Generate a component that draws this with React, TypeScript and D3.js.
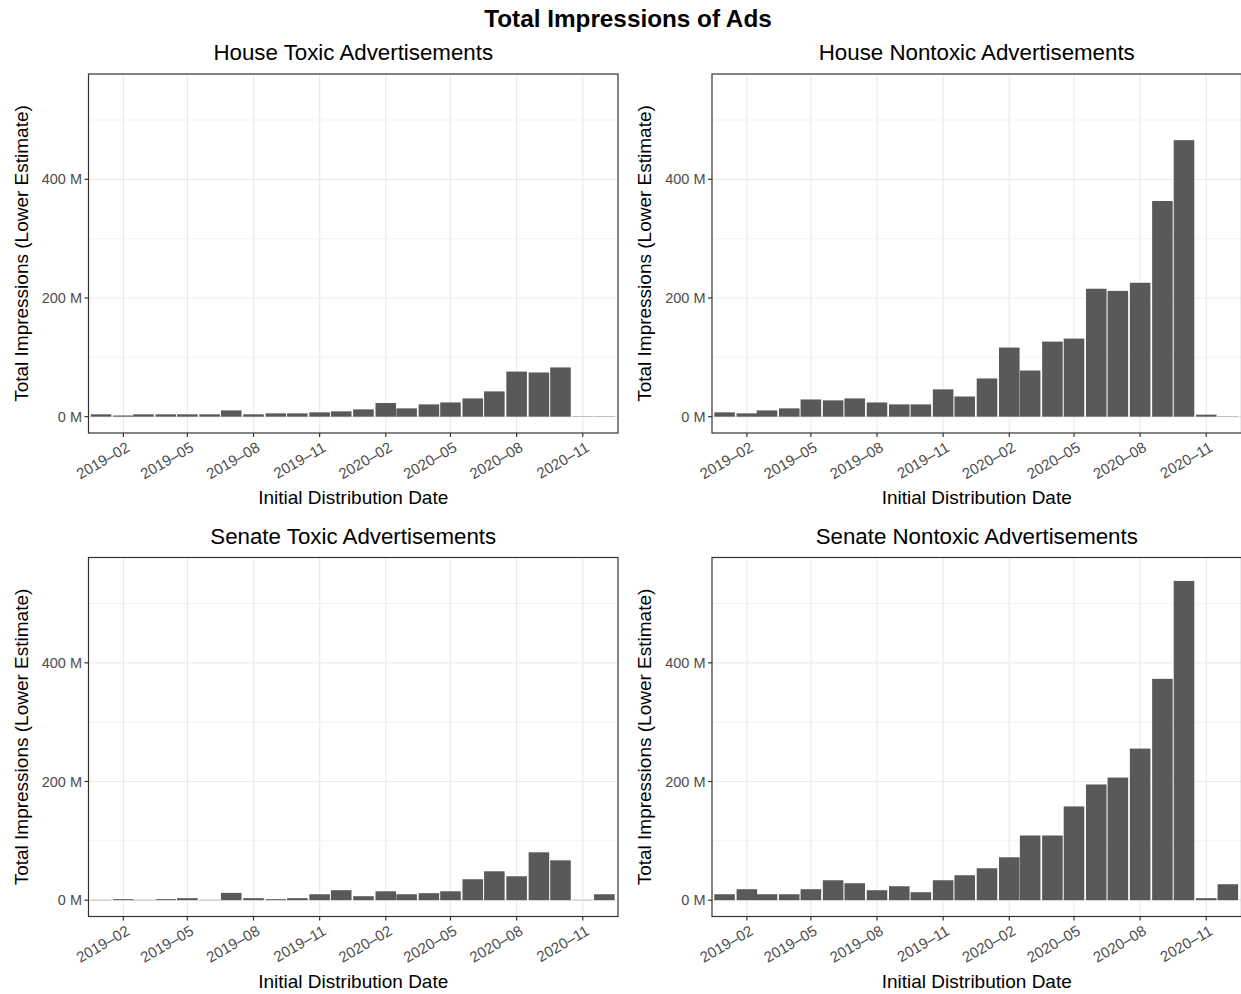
import React from 'react';
import * as d3 from 'd3';

const months = [
  '2019-01', '2019-02', '2019-03', '2019-04', '2019-05', '2019-06',
  '2019-07', '2019-08', '2019-09', '2019-10', '2019-11', '2019-12',
  '2020-01', '2020-02', '2020-03', '2020-04', '2020-05', '2020-06',
  '2020-07', '2020-08', '2020-09', '2020-10', '2020-11', '2020-12',
];

// Total impressions (millions)
const houseToxic = [4, 2, 4, 4, 4, 4, 10.6, 4, 5.6, 5.6, 7.3, 9, 12.3, 23, 14, 20.7, 24, 30.8, 42.6, 76, 74.5, 83, 0.5, 0.5];
const houseNontoxic = [7.3, 5.6, 10.6, 14, 29, 27.5, 30.8, 24, 20.7, 20.7, 46, 34, 64.4, 116.5, 77.8, 126.5, 131.6, 215.6, 212, 225.7, 363.5, 466, 3.4, 0.5];
const senateToxic = [0.5, 1.7, 0.5, 1.7, 3.4, 0.5, 12.3, 3.4, 1.7, 3.4, 10, 16.8, 6.7, 15, 10, 11.8, 15, 35.3, 48.7, 40.3, 80.7, 67.2, 0.5, 10];
const senateNontoxic = [10, 18.5, 10, 10, 18.5, 33.6, 28.6, 16.8, 23.5, 13.4, 33.6, 42, 53.8, 72.3, 109, 109, 158, 195, 206.7, 255.5, 373, 538, 3.4, 26.9];

const xTickMonths = ['2019-02', '2019-05', '2019-08', '2019-11', '2020-02', '2020-05', '2020-08', '2020-11'];
const xTickLabels = ['2019\u201302', '2019\u201305', '2019\u201308', '2019\u201311', '2020\u201302', '2020\u201305', '2020\u201308', '2020\u201311'];
const yMajorTicks = [0, 200, 400];
const yMinorTicks = [100, 300, 500];
const yTickLabels = ['0 M', '200 M', '400 M'];

const mainTitle = 'Total Impressions of Ads';
const panelTitles = ['House Toxic Advertisements', 'House Nontoxic Advertisements', 'Senate Toxic Advertisements', 'Senate Nontoxic Advertisements'];
const xAxisTitle = 'Initial Distribution Date';
const yAxisTitle = 'Total Impressions (Lower Estimate)';

const W = 1241;
const H = 994;
const FONT = '"Liberation Sans", Arial, Helvetica, sans-serif';
const PW = 529.5;
const PH = 359;
const panelPos = [
  { x: 88.5, y: 74 },
  { x: 712, y: 74 },
  { x: 88.5, y: 557.5 },
  { x: 712, y: 557.5 },
];
const seriesList = [houseToxic, houseNontoxic, senateToxic, senateNontoxic];

const parseMonth = d3.utcParse('%Y-%m');
const DAY = 86400000;

function Panel({ px, py, title, values }: { px: number; py: number; title: string; values: number[] }) {
  const x = d3.scaleUtc()
    .domain([new Date(Date.UTC(2018, 11, 14, 12)), new Date(Date.UTC(2020, 11, 20))])
    .range([0, PW]);
  const y = d3.scaleLinear().domain([-27.5, 577.5]).range([PH, 0]);
  const halfW = 14.3 * DAY;
  const cx = PW / 2;
  return (
    <g transform={`translate(${px},${py})`}>
      <text x={cx} y={-14} textAnchor="middle" fontSize={22.3} fill="#000" fontFamily={FONT}>{title}</text>
      <rect x={0} y={0} width={PW} height={PH} fill="#fff" />
      {yMinorTicks.map((t) => (
        <line key={'ym' + t} x1={0} x2={PW} y1={y(t)} y2={y(t)} stroke="#ebebeb" strokeWidth={0.6} />
      ))}
      {yMajorTicks.map((t) => (
        <line key={'yM' + t} x1={0} x2={PW} y1={y(t)} y2={y(t)} stroke="#ebebeb" strokeWidth={1.2} />
      ))}
      {xTickMonths.map((m) => {
        const xv = x(parseMonth(m)!);
        return <line key={'xg' + m} x1={xv} x2={xv} y1={0} y2={PH} stroke="#ebebeb" strokeWidth={1.2} />;
      })}
      {months.map((m, i) => {
        const d = parseMonth(m)!;
        const x0 = x(new Date(d.getTime() - halfW));
        const x1 = x(new Date(d.getTime() + halfW));
        const v = values[i];
        return (
          <rect key={'b' + m} x={x0} width={x1 - x0} y={y(v)} height={y(0) - y(v)} fill="#595959" />
        );
      })}
      <rect x={0} y={0} width={PW} height={PH} fill="none" stroke="#333333" strokeWidth={1.2} />
      {yMajorTicks.map((t, i) => (
        <g key={'yt' + t}>
          <line x1={-4} x2={0} y1={y(t)} y2={y(t)} stroke="#333333" strokeWidth={1.2} />
          <text x={-6.5} y={y(t)} dy="0.35em" textAnchor="end" fontSize={14.5} fill="#4d4d4d" fontFamily={FONT}>{yTickLabels[i]}</text>
        </g>
      ))}
      {xTickMonths.map((m, i) => {
        const xv = x(parseMonth(m)!);
        return (
          <g key={'xt' + m}>
            <line x1={xv} x2={xv} y1={PH} y2={PH + 4} stroke="#333333" strokeWidth={1.2} />
            <text transform={`translate(${xv + 2},${PH + 8}) rotate(-30)`} dy="0.72em" textAnchor="end" fontSize={15} fill="#4d4d4d" fontFamily={FONT}>{xTickLabels[i]}</text>
          </g>
        );
      })}
      <text x={cx} y={PH + 71} textAnchor="middle" fontSize={19} fill="#000" fontFamily={FONT}>{xAxisTitle}</text>
      <text transform={`translate(-61,${PH / 2}) rotate(-90)`} textAnchor="middle" fontSize={19} fill="#000" fontFamily={FONT}>{yAxisTitle}</text>
    </g>
  );
}

export default function App() {
  return (
    <svg width={W} height={H} viewBox={`0 0 ${W} ${H}`} style={{ position: 'absolute', left: 0, top: 0, background: '#fff' }}>
      <rect x={0} y={0} width={W} height={H} fill="#fff" />
      <text x={628} y={27} textAnchor="middle" fontSize={24.3} fontWeight="bold" fill="#000" fontFamily={FONT}>{mainTitle}</text>
      {panelPos.map((p, i) => (
        <Panel key={i} px={p.x} py={p.y} title={panelTitles[i]} values={seriesList[i]} />
      ))}
    </svg>
  );
}
